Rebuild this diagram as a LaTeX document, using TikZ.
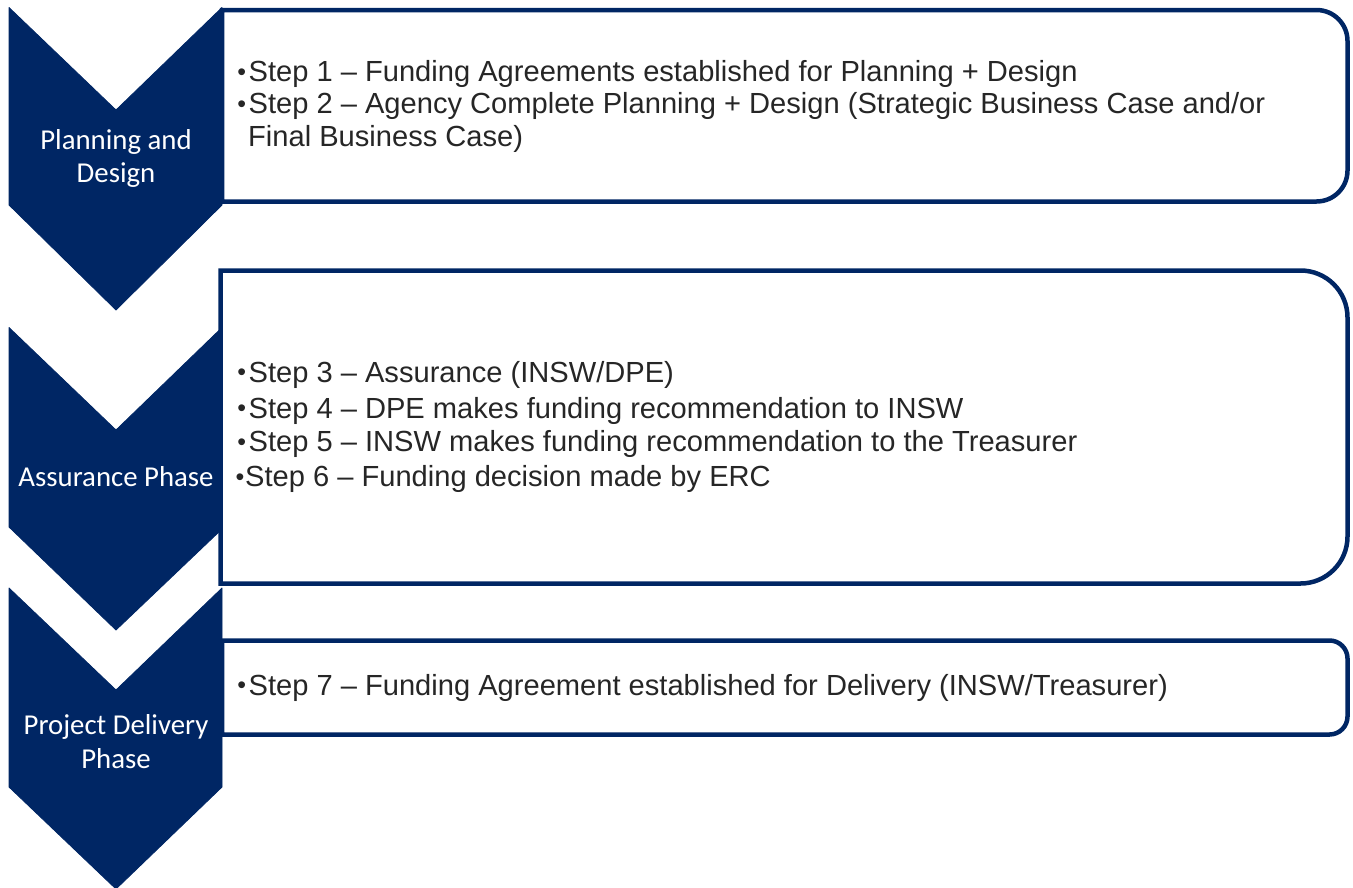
\documentclass[tikz,border=0pt]{standalone}
\usepackage{fontspec}
\setmainfont{Liberation Sans}
\newfontfamily\phasefont{Carlito}
\usetikzlibrary{positioning}
\definecolor{nswblue}{RGB}{0,38,100}
\definecolor{stepgray}{RGB}{38,38,38}
\tikzset{
  phase/.style={fill=nswblue,draw=nswblue,line width=0.8bp,line join=round},
  stepbox/.style={draw=nswblue,line width=4.5bp,fill=white},
  phaselabel/.style={text=white,inner sep=0pt,align=center,
    font=\phasefont\fontsize{28.8bp}{33.5bp}\selectfont},
  stepline/.style={anchor=base west,inner sep=0pt,text=stepgray,
    font=\fontsize{29.1bp}{33bp}\selectfont}
}
\newcommand{\stepdot}{\raisebox{1.6bp}{\fontsize{25bp}{25bp}\selectfont\textbullet}}
\newcommand{\bul}{\makebox[12.2bp][l]{\hspace{1bp}\stepdot}}

\begin{document}
\begin{tikzpicture}[x=1bp,y=-1bp]
  \useasboundingbox (0,0) rectangle (1353,887);
%%
  % Box: planning steps
  \draw[stepbox] (222,10) -- (1316.5,10) arc[start angle=-90,end angle=0,radius=31]
    -- (1347.5,170.5) arc[start angle=0,end angle=90,radius=31] -- (222,201.5) -- cycle;
  % Box: assurance steps
  \draw[stepbox] (220.5,270.5) -- (1300.5,270.5) arc[start angle=-90,end angle=0,radius=47]
    -- (1347.5,536.5) arc[start angle=0,end angle=90,radius=47] -- (220.5,583.5) -- cycle;
  % Box: delivery steps
  \draw[stepbox] (222,640.5) -- (1329.5,640.5) arc[start angle=-90,end angle=0,radius=18]
    -- (1347.5,716.5) arc[start angle=0,end angle=90,radius=18] -- (222,734.5) -- cycle;
%%
  % Phase: Planning and Design
  \draw[phase] (9,7.5) -- (116,110) -- (222,7.5) -- (222,205) -- (116,310) -- (9,205) -- cycle;
  % Phase: Assurance
  \draw[phase] (9,327.5) -- (116,430) -- (222,327.5) -- (222,529) -- (116,630) -- (9,527) -- cycle;
  % Phase: Project Delivery
  \draw[phase] (9,588) -- (116,690) -- (222,588) -- (222,787) -- (116,889) -- (9,787) -- cycle;
%%
  % Node: phase labels
  \node[phaselabel] (plan) at (116,158.5) {Planning and\\Design};
  \node[phaselabel,anchor=base] (assure) at (116,486.7) {Assurance Phase};
  \node[phaselabel] (deliver) at (116,741.5) {Project Delivery\\Phase};
%%
  % Node: steps 1 and 2
  \node[stepline] (s1) at (236.2,81.7) {\bul Step 1 – Funding Agreements established for Planning + Design};
  \node[stepline] (s2) at (236.2,113.9) {\bul Step 2 – Agency Complete Planning + Design (Strategic Business Case and/or};
  \node[stepline] (s2b) at (248,146.5) {Final Business Case)};
  % Node: steps 3 to 6
  \node[stepline] (s3) at (236.2,382.3) {\bul Step 3 – Assurance (INSW/DPE)};
  \node[stepline] (s4) at (236.2,418.3) {\bul Step 4 – DPE makes funding recommendation to INSW};
  \node[stepline] (s5) at (236.2,451.7) {\bul Step 5 – INSW makes funding recommendation to the Treasurer};
  \node[stepline] (s6) at (234.5,486.7) {\makebox[10.4bp][l]{\hspace{0.8bp}\stepdot}Step 6 – Funding decision made by ERC};
  % Node: step 7
  \node[stepline] (s7) at (236.2,695) {\bul Step 7 – Funding Agreement established for Delivery (INSW/Treasurer)};
%
\end{tikzpicture}
\end{document}
